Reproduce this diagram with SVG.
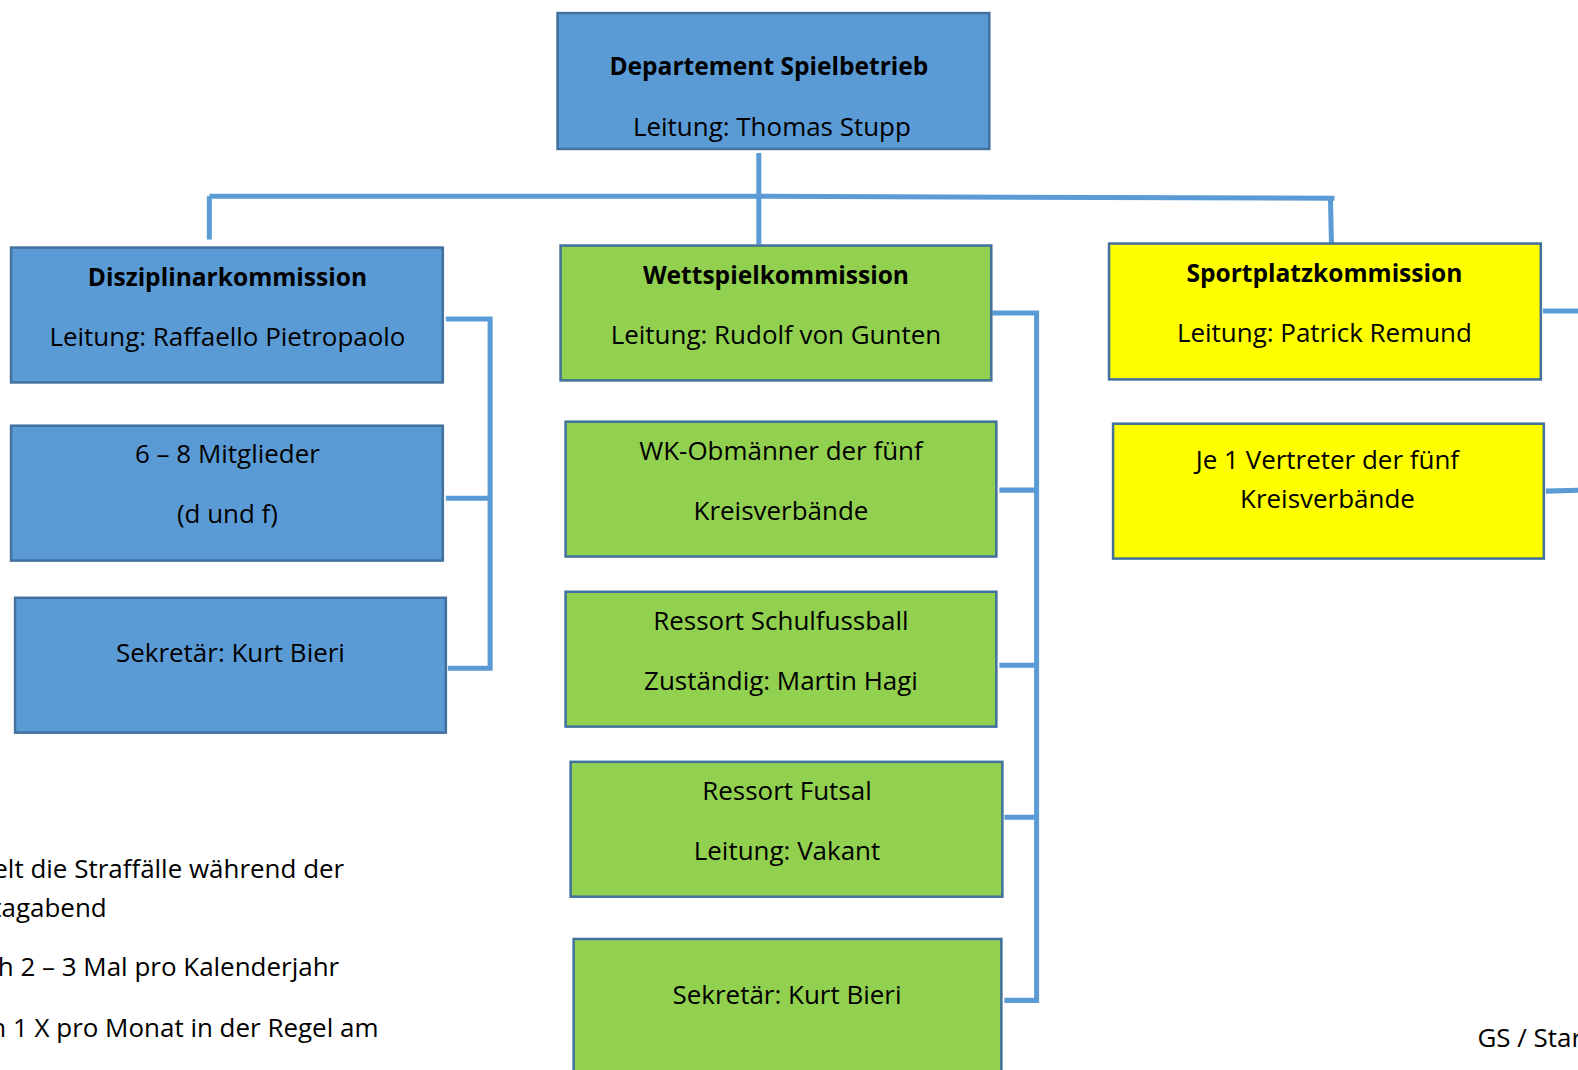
<svg xmlns="http://www.w3.org/2000/svg" width="1578" height="1070" viewBox="0 0 1578 1070">
<style>
.box{stroke:#41719C;stroke-width:2.5}
.blue{fill:#5B9BD5}
.green{fill:#92D050}
.yellow{fill:#FFFF00}
.t{font-family:"Open Sans","Liberation Sans",sans-serif;font-size:25.8px;fill:#000;text-anchor:middle}
.b{font-weight:bold;font-size:24.4px}
.n{font-family:"Open Sans","Liberation Sans",sans-serif;font-size:25.8px;fill:#000}
.c{fill:none;stroke:#5B9BD5;stroke-width:5}
</style>
<rect width="1578" height="1070" fill="#fff"/>
<g transform="scale(1.0064)">
<g id="connectors">
<path class="c" d="M754 152V243"/>
<path class="c" d="M208 195H754L1326 197"/>
<path class="c" d="M208 195V238"/>
<path class="c" d="M1322 197L1323 242"/>
<path class="c" d="M443 317H487V664H445"/>
<path class="c" d="M443 495H487"/>
<path class="c" d="M986 311H1030V994H998"/>
<path class="c" d="M993 487H1030"/>
<path class="c" d="M993 661H1030"/>
<path class="c" d="M998 812H1030"/>
<path class="c" d="M1533 309H1578"/>
<path class="c" d="M1536 488L1578 487"/>
</g>
<g id="top">
<rect class="box blue" x="554" y="13" width="429" height="135"/>
<text class="t b" x="764" y="75">Departement Spielbetrieb</text>
<text class="t" x="767" y="135">Leitung: Thomas Stupp</text>
</g>
<g id="disziplinar">
<rect class="box blue" x="11" y="246" width="429" height="134"/>
<text class="t b" x="226" y="284">Disziplinarkommission</text>
<text class="t" x="226" y="344">Leitung: Raffaello Pietropaolo</text>
</g>
<g id="mitglieder">
<rect class="box blue" x="11" y="423" width="429" height="134"/>
<text class="t" x="226" y="460">6 – 8 Mitglieder</text>
<text class="t" x="226" y="520">(d und f)</text>
</g>
<g id="sekretaer1">
<rect class="box blue" x="15" y="594" width="428" height="134"/>
<text class="t" x="229" y="658">Sekretär: Kurt Bieri</text>
</g>
<g id="wettspiel">
<rect class="box green" x="557" y="244" width="428" height="134"/>
<text class="t b" x="771" y="282">Wettspielkommission</text>
<text class="t" x="771" y="342">Leitung: Rudolf von Gunten</text>
</g>
<g id="wk">
<rect class="box green" x="562" y="419" width="428" height="134"/>
<text class="t" x="776" y="457">WK-Obmänner der fünf</text>
<text class="t" x="776" y="517">Kreisverbände</text>
</g>
<g id="schulfussball">
<rect class="box green" x="562" y="588" width="428" height="134"/>
<text class="t" x="776" y="626">Ressort Schulfussball</text>
<text class="t" x="776" y="686">Zuständig: Martin Hagi</text>
</g>
<g id="futsal">
<rect class="box green" x="567" y="757" width="429" height="134"/>
<text class="t" x="782" y="795">Ressort Futsal</text>
<text class="t" x="782" y="855">Leitung: Vakant</text>
</g>
<g id="sekretaer2">
<rect class="box green" x="570" y="933" width="425" height="145"/>
<text class="t" x="782" y="998">Sekretär: Kurt Bieri</text>
</g>
<g id="sportplatz">
<rect class="box yellow" x="1102" y="242" width="429" height="135"/>
<text class="t b" x="1316" y="280">Sportplatzkommission</text>
<text class="t" x="1316" y="340">Leitung: Patrick Remund</text>
</g>
<g id="vertreter">
<rect class="box yellow" x="1106" y="421" width="428" height="134"/>
<text class="t" x="1319" y="466">Je 1 Vertreter der fünf</text>
<text class="t" x="1319" y="505">Kreisverbände</text>
</g>
<g id="notes">
<text class="n" x="342" y="872" text-anchor="end">elt die Straffälle während der</text>
<text class="n" x="106" y="911" text-anchor="end">tagabend</text>
<text class="n" x="337" y="970" text-anchor="end">h 2 – 3 Mal pro Kalenderjahr</text>
<text class="n" x="376" y="1030" text-anchor="end">n 1 X pro Monat in der Regel am</text>
<text class="n" x="1468" y="1040">GS / Star</text>
</g>
</g>
</svg>
